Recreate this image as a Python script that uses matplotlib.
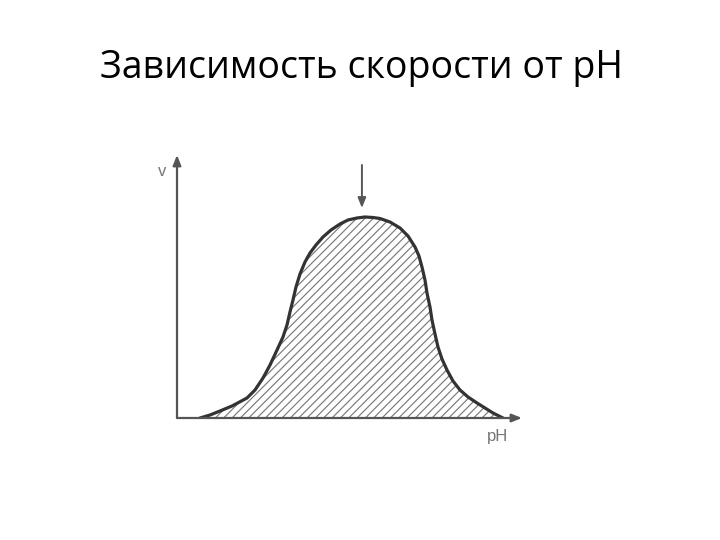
import matplotlib
matplotlib.use("Agg")
import matplotlib.pyplot as plt

# bell-shaped rate vs pH curve
ph = [0.667, 0.957, 1.246, 1.594, 2.029, 2.261, 2.493, 2.696, 2.899, 3.072,
      3.188, 3.275, 3.362, 3.449, 3.565, 3.710, 3.855, 4.029, 4.232, 4.464,
      4.725, 4.957, 5.217, 5.449, 5.681, 5.884, 6.174, 6.464, 6.696, 6.899,
      7.014, 7.101, 7.188, 7.246, 7.333, 7.391, 7.478, 7.565, 7.681, 7.826,
      8.0, 8.203, 8.435, 8.696, 8.928, 9.159, 9.449]
rate = [0, 1.5, 3.5, 6, 10, 14, 20, 26.5, 34, 40.5,
        46.5, 53, 59, 65.5, 72, 78, 82.5, 86.5, 90.5, 94,
        97, 99, 100, 100.5, 100.25, 99.75, 98, 95, 91, 85.5,
        81, 75.5, 69, 62.5, 55.5, 49, 42, 35.5, 29.5, 24,
        18.5, 14, 10.5, 7.5, 5, 2.5, 0]
optimum_ph = 5.36

title = "Зависимость скорости от pH"
x_label = "pH"
y_label = "v"

plt.rcParams['hatch.linewidth'] = 0.85
plt.rcParams['hatch.color'] = '#7a7a7a'

fig = plt.figure(figsize=(7.2, 5.4), dpi=100)
ax = fig.add_axes([177 / 720, 122 / 540, 345 / 720, 263 / 540])
ax.set_xlim(0, 10)
ax.set_ylim(0, 131.5)
ax.axis('off')

ax.fill_between(ph, rate, 0, facecolor='white', edgecolor='#7a7a7a',
                hatch='////', linewidth=0)
ax.plot(ph, rate, color='#333333', linewidth=2.3, solid_joinstyle='round',
        solid_capstyle='round')

axis_col = '#555555'
ax.annotate('', xy=(10, 0), xytext=(0, 0), annotation_clip=False,
            arrowprops=dict(arrowstyle='-|>,head_length=0.5,head_width=0.2',
                            color=axis_col, lw=1.6,
                            mutation_scale=12, shrinkA=0, shrinkB=0))
ax.annotate('', xy=(0, 131.5), xytext=(0, 0), annotation_clip=False,
            arrowprops=dict(arrowstyle='-|>,head_length=0.5,head_width=0.2',
                            color=axis_col, lw=1.6,
                            mutation_scale=12, shrinkA=0, shrinkB=0))
ax.annotate('', xy=(optimum_ph, 105), xytext=(optimum_ph, 126.5),
            annotation_clip=False,
            arrowprops=dict(arrowstyle='-|>,head_length=0.5,head_width=0.2',
                            color=axis_col, lw=1.4,
                            mutation_scale=12, shrinkA=0, shrinkB=0))

ax.text(9.3, -9.5, x_label, fontsize=12, color='#777777',
        family='Liberation Sans', ha='center', va='center')
ax.text(-0.43, 123, y_label, fontsize=12, color='#777777',
        family='Liberation Sans', ha='center', va='center')

fig.text(362 / 720, 1 - 68 / 540, title, fontsize=27, family='Open Sans',
         ha='center', va='center', color='black')

fig.savefig('out.png', dpi=100)
